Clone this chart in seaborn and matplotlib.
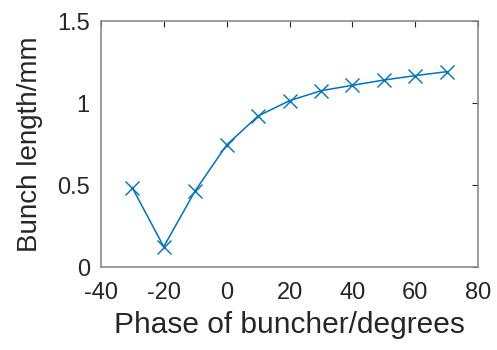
import seaborn as sns
import matplotlib.pyplot as plt
import pandas as pd

# data
phase = [-30, -20, -10, 0, 10, 20, 30, 40, 50, 60, 70]
bunch_len = [0.483, 0.124, 0.465, 0.744, 0.921, 1.014, 1.075, 1.108, 1.140, 1.167, 1.191]
x_ticks = [-40, -20, 0, 20, 40, 60, 80]
y_ticks = [0, 0.5, 1, 1.5]
y_tick_labels = ['0', '0.5', '1', '1.5']

df = pd.DataFrame({'phase': phase, 'length': bunch_len})

sns.set_style('white')
plt.rcParams['font.family'] = ['Liberation Sans', 'DejaVu Sans']
plt.rcParams['axes.unicode_minus'] = False

fig = plt.figure(figsize=(4.97, 3.5), dpi=100)
ax = fig.add_axes([0.203, 0.237, 0.759, 0.703])

sns.lineplot(x='phase', y='length', data=df, color='#0072BD', marker='x',
             markersize=10, markeredgewidth=1.0, markeredgecolor='#0072BD',
             linewidth=1.1, ax=ax)

ax.set_xlim(-40, 80)
ax.set_ylim(0, 1.5)
ax.set_xticks(x_ticks)
ax.set_yticks(y_ticks)
ax.set_yticklabels(y_tick_labels)
ax.tick_params(direction='in', top=True, right=True, length=4, width=0.8,
               color='#262626', labelsize=17, labelcolor='#262626')
ax.tick_params(axis='x', pad=11)
ax.tick_params(axis='y', pad=8)
for s in ax.spines.values():
    s.set_color('#8c8c8c')
    s.set_linewidth(1.2)

ax.set_xlabel('Phase of buncher/degrees', fontsize=21.5, color='#262626', labelpad=5)
ax.set_ylabel('Bunch length/mm', fontsize=20, color='#262626', labelpad=10)

plt.savefig('out.png', dpi=100)
